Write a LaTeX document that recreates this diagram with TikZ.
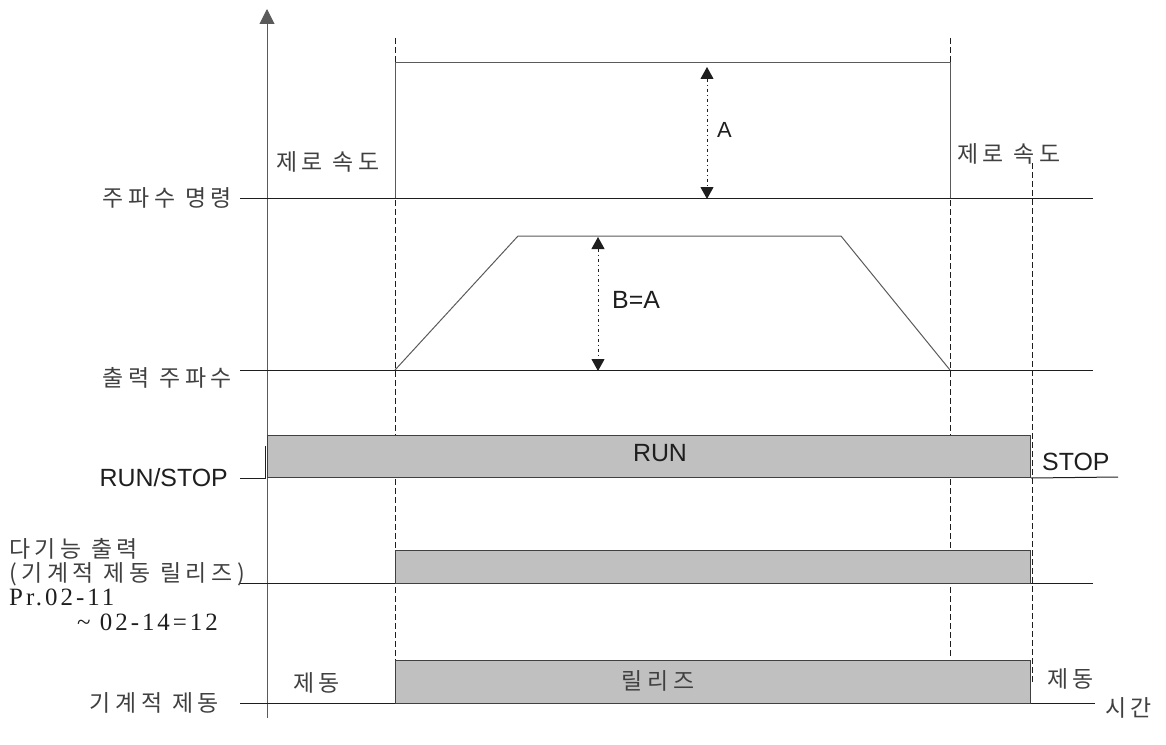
\documentclass[tikz,border=0pt]{standalone}
\usepackage{fontspec}
\usetikzlibrary{arrows.meta}
\newfontfamily\krfont{Noto Sans CJK KR}[LetterSpace=20]
\newfontfamily\arialfont{Liberation Sans}
\newfontfamily\serfont{Liberation Serif}[LetterSpace=12]
\definecolor{barfill}{RGB}{192,192,192}
\definecolor{linecol}{RGB}{30,30,30}
\definecolor{sigcol}{RGB}{90,90,90}
\tikzset{
  base/.style={draw=linecol, line width=1bp},
  sig/.style={draw=sigcol, line width=1bp},
  guide/.style={draw=linecol, line width=0.9bp, dash pattern=on 6bp off 3bp},
  bar/.style={draw=linecol!85, line width=1bp, fill=barfill},
  dim/.style={draw=linecol, line width=1bp, dash pattern=on 3bp off 3bp on 1bp off 3bp,
     {Triangle[length=12bp,width=13bp]}-{Triangle[length=12bp,width=13bp]}},
  kr/.style={font=\krfont\fontsize{23}{25}\selectfont, inner sep=0pt, text=linecol!85},
  ar/.style={font=\arialfont\fontsize{25}{27}\selectfont, inner sep=0pt, text=linecol},
  sr/.style={font=\serfont\fontsize{25}{27}\selectfont, inner sep=0pt, text=linecol},
}
\begin{document}
\begin{tikzpicture}[x=1bp,y=-1bp]
\useasboundingbox (0,0) rectangle (1166,745);
% axis
\coordinate (axb) at (267,718);
\coordinate (axt) at (267,9);
\draw[draw=sigcol, line width=1bp, -{Triangle[length=15bp,width=15bp]}] (axb) -- (axt);
% guides
\coordinate (g1t) at (395,38); \coordinate (g1b) at (395,660);
\coordinate (g2t) at (950,38); \coordinate (g2b) at (950,657);
\coordinate (g3t) at (1032,163); \coordinate (g3b) at (1032,683);
\draw[guide] (g1t) -- (g1b);
\draw[guide] (g2t) -- (g2b);
\draw[guide] (g3t) -- (g3b);
% frequency command
\coordinate (fcl) at (240,198); \coordinate (fcr) at (1093,198);
\draw[base] (fcl) -- (fcr);
\coordinate (fc1) at (395,198); \coordinate (fc2) at (395,63);
\coordinate (fc3) at (950,63); \coordinate (fc4) at (950,198);
\draw[sig] (fc1) -- (fc2) -- (fc3) -- (fc4);
\coordinate (at) at (707,67); \coordinate (ab) at (707,199);
\draw[dim] (at) -- (ab);
\node[ar, font=\arialfont\fontsize{22}{24}\selectfont, anchor=west] (lA) at (717,130) {A};
% output frequency
\coordinate (ofl) at (240,370); \coordinate (ofr) at (1093,370);
\draw[base] (ofl) -- (ofr);
\coordinate (t1) at (395,370); \coordinate (t2) at (518,236);
\coordinate (t3) at (841,236); \coordinate (t4) at (950,370);
\draw[sig] (t1) -- (t2) -- (t3) -- (t4);
\coordinate (bt) at (598,237); \coordinate (bb) at (598,371);
\draw[dim] (bt) -- (bb);
\node[ar, anchor=west] (lB) at (612,300) {B=A};
% run/stop
\coordinate (rs0) at (240,478); \coordinate (rs1) at (265,478); \coordinate (rs2) at (265,446);
\draw[base] (rs0) -- (rs1) -- (rs2);
\node[bar, minimum width=763bp, minimum height=42bp, anchor=north west] (runbar) at (267,435) {};
\coordinate (rse) at (1118,477);
\draw[base] (runbar.south east) -- (rse);
\node[ar] (lrun) at (660,453) {RUN};
\node[ar, anchor=west] (lstop) at (1042,462) {STOP};
\node[ar, anchor=east] (lrs) at (228,478) {RUN/STOP};
% multi-function output
\coordinate (mfl) at (240,583); \coordinate (mfr) at (1093,583);
\draw[base] (mfl) -- (mfr);
\node[bar, minimum width=635bp, minimum height=33bp, anchor=north west] (mfbar) at (395,550) {};
% mechanical brake
\coordinate (mbl) at (240,703); \coordinate (mbr) at (1095,703);
\draw[base] (mbl) -- (mbr);
\node[bar, minimum width=635bp, minimum height=43bp, anchor=north west] (mbbar) at (395,660) {};
\node[kr] (lrel) at (658,681) {릴리즈};
\node[kr, anchor=west] (lbr1) at (293,683) {제동};
\node[kr, anchor=west] (lbr2) at (1047,679) {제동};
\node[kr, anchor=west] (ltime) at (1105,708) {시간};
% left labels
\node[kr, anchor=east] (lfc) at (232,198) {주파수 명령};
\node[kr, anchor=east] (lof) at (232,378) {출력 주파수};
\node[kr, anchor=east] (lmb) at (219,703) {기계적 제동};
\node[kr, anchor=west] (lmf1) at (9,549) {다기능 출력};
\node[kr, anchor=west] (lmf2) at (9,574) {(기계적 제동 릴리즈)};
\node[sr, anchor=west] (lmf3) at (9,597) {Pr.02-11};
\node[sr, anchor=west] (lmf4) at (77,622) {\textasciitilde\ 02-14=12};
% zero speed
\node[kr, anchor=west] (lz1) at (276,162) {제로 속도};
\node[kr, anchor=west] (lz2) at (957,154) {제로 속도};
\end{tikzpicture}
\end{document}
